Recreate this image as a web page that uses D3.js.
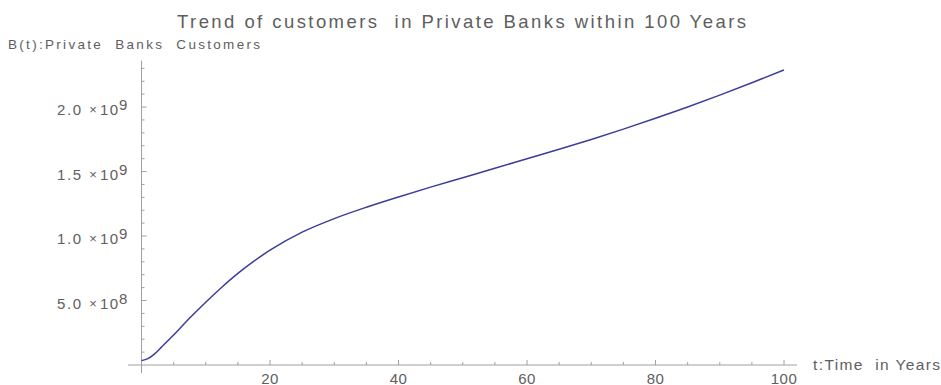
<!DOCTYPE html>
<html><head><meta charset="utf-8">
<script src="https://cdn.jsdelivr.net/npm/d3@7"></script>
<style>
html,body{margin:0;padding:0;background:#fff;}
svg{display:block;}
text{font-family:"Liberation Sans",Arial,Helvetica,sans-serif;fill:#5e5e5e;white-space:pre;}
</style></head>
<body>
<svg id="c" width="941" height="385"></svg>
<script>
// Data
const years = [0, 1, 2, 3, 5, 7.5, 10, 12.5, 15, 17.5, 20, 25, 30, 35, 40, 45, 50, 55, 60, 65, 70, 75, 80, 85, 90, 95, 100];
const customers = [0.034e9, 0.049e9, 0.084e9, 0.133e9, 0.232e9, 0.364e9, 0.487e9, 0.603e9, 0.71e9, 0.805e9, 0.89e9,
  1.03e9, 1.135e9, 1.223e9, 1.303e9, 1.379e9, 1.452e9, 1.525e9, 1.599e9, 1.673e9, 1.749e9, 1.829e9,
  1.913e9, 2.0e9, 2.092e9, 2.188e9, 2.288e9];
const xTicks = [20, 40, 60, 80, 100];
const yTicks = [0.5e9, 1.0e9, 1.5e9, 2.0e9];
const yTickMantissa = ["5.0", "1.0", "1.5", "2.0"];
const yTickExponent = ["8", "9", "9", "9"];
const title = "Trend of customers  in Private Banks within 100 Years";
const yTitle = "B(t):Private  Banks  Customers";
const xTitle = "t:Time  in Years";

const svg = d3.select("#c");
const x = d3.scaleLinear().domain([0, 100]).range([141.5, 784]);
const y = d3.scaleLinear().domain([0, 2.36e9]).range([365, 60.6]);
const axisColor = "#a0a0a0";

// axes lines
svg.append("line").attr("x1", 128).attr("x2", 797).attr("y1", y(0)).attr("y2", y(0))
  .attr("stroke", axisColor).attr("stroke-width", 1);
svg.append("line").attr("x1", x(0)).attr("x2", x(0)).attr("y1", y(2.36e9)).attr("y2", 373)
  .attr("stroke", axisColor).attr("stroke-width", 1);

// x ticks
const xMinor = d3.range(5, 101, 5);
svg.selectAll(".xt").data(xMinor).enter().append("line")
  .attr("x1", d => x(d)).attr("x2", d => x(d))
  .attr("y1", y(0)).attr("y2", d => y(0) - (d % 20 === 0 ? 5 : 3))
  .attr("stroke", axisColor);
svg.selectAll(".xl").data(xTicks).enter().append("text")
  .attr("x", d => x(d)).attr("y", 384).attr("text-anchor", "middle")
  .attr("letter-spacing", 0.5).attr("font-size", 15).text(d => d);

// y ticks
const yMinor = d3.range(1, 24).map(i => i * 1e8);
svg.selectAll(".yt").data(yMinor).enter().append("line")
  .attr("x1", x(0)).attr("x2", d => x(0) + (Math.round(d / 1e8) % 5 === 0 ? 5 : 3))
  .attr("y1", d => y(d)).attr("y2", d => y(d))
  .attr("stroke", axisColor);
yTicks.forEach((v, i) => {
  const by = y(v) + 8;
  svg.append("text").attr("x", 81).attr("y", by).attr("text-anchor", "end")
    .attr("font-size", 15).attr("textLength", 24).attr("lengthAdjust", "spacing").text(yTickMantissa[i]);
  svg.append("text").attr("x", 93).attr("y", by - 1).attr("text-anchor", "middle")
    .attr("font-size", 13).text("\u00d7");
  svg.append("text").attr("x", 100).attr("y", by)
    .attr("font-size", 15).attr("textLength", 18).attr("lengthAdjust", "spacing").text("10");
  svg.append("text").attr("x", 119).attr("y", by - 5)
    .attr("font-size", 15).text(yTickExponent[i]);
});

// line
const line = d3.line().x((d, i) => x(years[i])).y(d => y(d)).curve(d3.curveMonotoneX);
svg.append("path").datum(customers).attr("d", line)
  .attr("fill", "none").attr("stroke", "#3d3d99").attr("stroke-width", 1.5);

// titles
svg.append("text").attr("x", 177).attr("y", 28).attr("font-size", 18.5)
  .attr("textLength", 569).attr("lengthAdjust", "spacing").text(title);
svg.append("text").attr("x", 8).attr("y", 49).attr("font-size", 13.5)
  .attr("textLength", 252).attr("lengthAdjust", "spacing").text(yTitle);
svg.append("text").attr("x", 813).attr("y", 370).attr("font-size", 15.5)
  .attr("textLength", 127).attr("lengthAdjust", "spacing").text(xTitle);
</script>
</body></html>
